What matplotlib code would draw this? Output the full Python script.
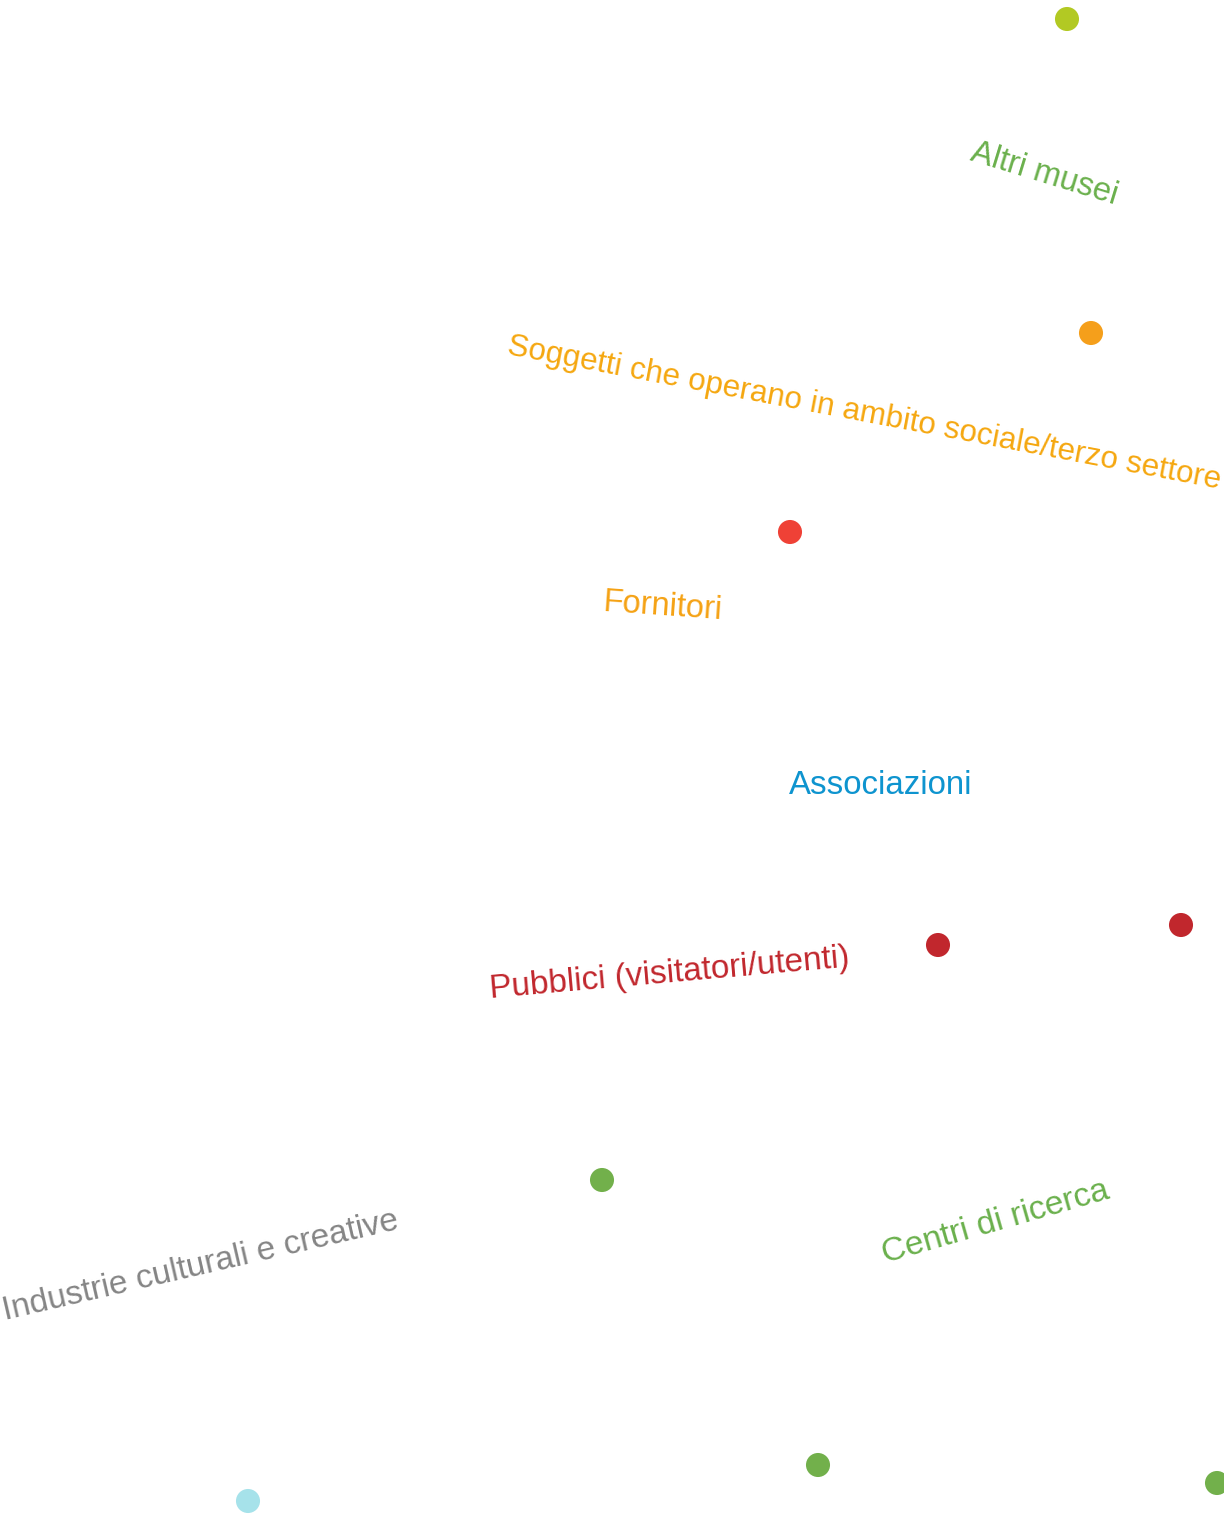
import matplotlib
matplotlib.use("Agg")
import matplotlib.pyplot as plt

# ---- data (in picture units) ----
dot_x = [1067, 1091, 790, 938, 1181, 602, 818, 1217, 248]
dot_y = [19, 333, 532, 945, 925, 1180, 1465, 1483, 1501]
dot_colors = ["#b2c923", "#f59f1b", "#ef4136", "#c1272d", "#c1272d",
              "#72b04b", "#72b04b", "#72b04b", "#a6e2ea"]

labels = ["Altri musei",
          "Soggetti che operano in ambito sociale/terzo settore",
          "Fornitori",
          "Associazioni",
          "Pubblici (visitatori/utenti)",
          "Industrie culturali e creative",
          "Centri di ricerca"]
label_x = [969, 506, 602, 789, 490, 5, 885]
label_y = [160, 354, 611, 794, 998, 1320, 1263]
label_rot = [-17, -10.7, -4, 0, 5, 13, 16]
label_size = [23.5, 22.6, 23.5, 23.8, 24.0, 24.0, 24.2]
label_colors = ["#6ab04c", "#f5a70f", "#f5a214", "#0e94cf",
                "#c1272d", "#858585", "#6ab04c"]

W, H = 1224, 1515
fig = plt.figure(figsize=(W / 100, H / 100), dpi=100)
ax = fig.add_axes([0, 0, 1, 1])
ax.set_xlim(0, W)
ax.set_ylim(H, 0)
ax.axis("off")

ax.scatter(dot_x, dot_y, s=300, c=dot_colors, linewidths=0, zorder=2)

for txt, x, y, rot, fs, col in zip(labels, label_x, label_y, label_rot,
                                   label_size, label_colors):
    ax.text(x, y, txt, color=col, fontsize=fs, rotation=rot,
            rotation_mode="anchor", ha="left", va="baseline",
            family=["Liberation Sans", "DejaVu Sans"])

fig.savefig("out.png", dpi=100, facecolor="white")
